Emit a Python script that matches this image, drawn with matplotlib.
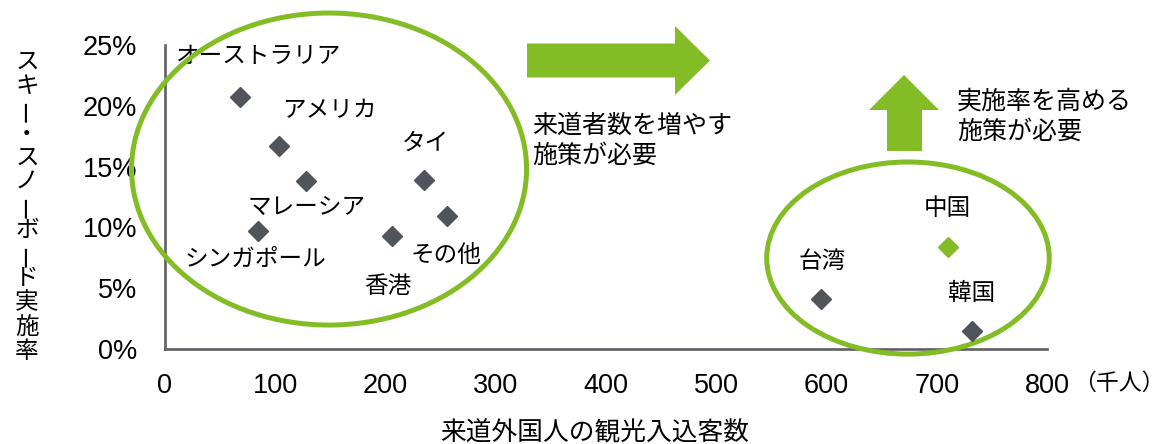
import matplotlib
matplotlib.use("Agg")
import matplotlib.pyplot as plt
from matplotlib.patches import Ellipse, Polygon
from matplotlib.ticker import FuncFormatter

# ---- data -------------------------------------------------------------
countries = ["オーストラリア", "アメリカ", "マレーシア", "シンガポール", "香港",
             "タイ", "その他", "台湾", "中国", "韓国"]
visitors = [68, 103, 128, 84, 206, 235, 256, 595, 710, 732]          # 千人
ski_rate = [20.7, 16.7, 13.8, 9.7, 9.3, 13.9, 10.9, 4.1, 8.4, 1.5]    # %
highlight = ["中国"]

x_ticks = [0, 100, 200, 300, 400, 500, 600, 700, 800]
y_ticks = [0, 5, 10, 15, 20, 25]

x_title = "来道外国人の観光入込客数"
y_title = "スキー・スノーボード実施率"
x_unit = "（千人）"
note_right = "来道者数を増やす\n施策が必要"
note_up = "実施率を高める\n施策が必要"

# ---- style ------------------------------------------------------------
GREEN = "#84BC26"
GRAY = "#51545B"
AXIS = "#5F6064"
JP = ["Noto Sans CJK JP", "DejaVu Sans"]
NUM = ["Liberation Sans", "DejaVu Sans"]

W, H = 1167, 444
fig = plt.figure(figsize=(W / 100, H / 100), dpi=100)


def fx(px):
    return px / W


def fy(py):
    return 1 - py / H


ax = fig.add_axes([fx(165), fy(349), fx(1047) - fx(165), fy(45) - fy(349)])
ax.set_xlim(0, 800)
ax.set_ylim(0, 25)

for s in ("top", "right"):
    ax.spines[s].set_visible(False)
for s in ("left", "bottom"):
    ax.spines[s].set_color(AXIS)
    ax.spines[s].set_linewidth(1.9)

ax.set_xticks(x_ticks)
ax.set_yticks(y_ticks)
ax.yaxis.set_major_formatter(FuncFormatter(lambda v, p: f"{v:.0f}%"))
ax.tick_params(axis="both", length=0, labelsize=19.5, colors="black")
ax.tick_params(axis="x", pad=17)
ax.tick_params(axis="y", pad=20)
for lab in ax.get_xticklabels() + ax.get_yticklabels():
    lab.set_family(NUM)

# scatter points
for name, xv, yv in zip(countries, visitors, ski_rate):
    col = GREEN if name in highlight else GRAY
    ax.plot(xv, yv, marker="D", ms=10.5, color=col, mec=col, ls="none",
            clip_on=False, zorder=5)

# point labels (offsets in pixels from the marker)
offsets = {
    "オーストラリア": (19, 41), "アメリカ": (51, 35), "マレーシア": (1, -26),
    "シンガポール": (-2, -28), "香港": (-4, -51), "タイ": (1, 37),
    "その他": (-1, -39), "台湾": (1, 38), "中国": (0, 38), "韓国": (0, 37),
}
for name, xv, yv in zip(countries, visitors, ski_rate):
    dx, dy = offsets[name]
    ax.annotate(name, (xv, yv), xytext=(dx, dy), textcoords="offset pixels",
                ha="center", va="center", fontsize=17, family=JP,
                annotation_clip=False)

# grouping ellipses
ax.add_patch(Ellipse((148.8, 14.8), 358.3, 25.66, fill=False, ec=GREEN,
                     lw=3.6, clip_on=False, zorder=3))
ax.add_patch(Ellipse((673.9, 7.48), 256.3, 15.8, fill=False, ec=GREEN,
                     lw=3.6, clip_on=False, zorder=3))

# block arrows (figure pixel coordinates)
right_arrow = [(527, 43.5), (675, 43.5), (675, 26), (710, 60.5), (675, 95),
               (675, 77.5), (527, 77.5)]
up_arrow = [(887, 151), (887, 110), (869, 110), (904, 75), (939, 110),
            (922, 110), (922, 151)]
for pts in (right_arrow, up_arrow):
    fig.patches.append(Polygon([(fx(a), fy(b)) for a, b in pts], closed=True,
                               fc=GREEN, ec="none", transform=fig.transFigure))

# notes and titles
fig.text(fx(532), fy(141), note_right, ha="left", va="center", fontsize=18,
         family=JP, linespacing=1.2)
fig.text(fx(957), fy(117), note_up, ha="left", va="center", fontsize=18,
         family=JP, linespacing=1.2)
fig.text(fx(1165), fy(383), x_unit, ha="right", va="center", fontsize=16.5,
         family=JP)
fig.text(fx(595), fy(433), x_title, ha="center", va="center", fontsize=18.5,
         family=JP)

# vertical y-axis title, one character per row
pitch = 24.1
for i, ch in enumerate(y_title):
    rot = 90 if ch == "ー" else 0
    fig.text(fx(27), fy(62 + i * pitch), ch, ha="center", va="center",
             fontsize=17, family=JP, rotation=rot)

fig.savefig("out.png", dpi=100)
